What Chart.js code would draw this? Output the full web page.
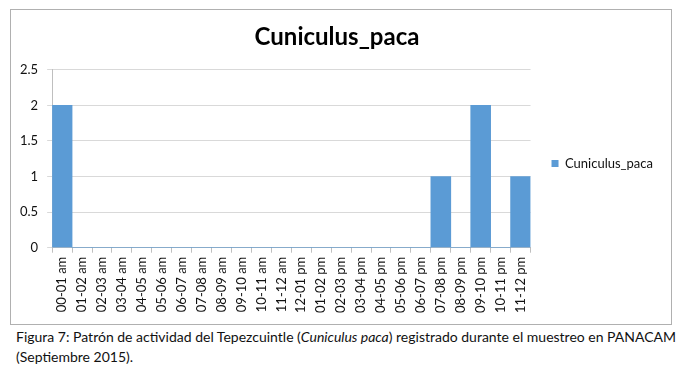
<!DOCTYPE html>
<html>
<head>
<meta charset="utf-8">
<script src="https://cdn.jsdelivr.net/npm/chart.js@4/dist/chart.umd.min.js"></script>
<style>
  body { margin: 0; background: #fff; width: 684px; height: 373px; position: relative; font-family: Lato, sans-serif; }
  #box { position: absolute; left: 10px; top: 9px; width: 660px; height: 314px; border: 1px solid #b0b0b0; }
  #caption { position: absolute; left: 16px; top: 327px; font-size: 14px; line-height: 20px; color: #111; white-space: nowrap; }
</style>
</head>
<body>
<div id="box"><canvas id="chart" width="660" height="314"></canvas></div>
<div id="caption">Figura 7: Patrón de actividad del Tepezcuintle (<i>Cuniculus paca</i>) registrado durante el muestreo en PANACAM<br>(Septiembre 2015).</div>
<script>
  // horas del día
  const horas = [
    '00-01 am', '01-02 am', '02-03 am', '03-04 am', '04-05 am', '05-06 am',
    '06-07 am', '07-08 am', '08-09 am', '09-10 am', '10-11 am', '11-12 am',
    '12-01 pm', '01-02 pm', '02-03 pm', '03-04 pm', '04-05 pm', '05-06 pm',
    '06-07 pm', '07-08 pm', '08-09 pm', '09-10 pm', '10-11 pm', '11-12 pm'
  ];
  const registros = [2, 0, 0, 0, 0, 0, 0, 0, 0, 0, 0, 0, 0, 0, 0, 0, 0, 0, 0, 1, 0, 2, 0, 1];
  const especie = 'Cuniculus_paca';

  const ctx = document.getElementById('chart').getContext('2d');
  new Chart(ctx, {
    type: 'bar',
    data: {
      labels: horas,
      datasets: [{
        label: especie,
        data: registros,
        backgroundColor: '#5b9bd5',
        barPercentage: 1,
        categoryPercentage: 1
      }]
    },
    options: {
      responsive: false,
      animation: false,
      layout: { padding: { left: 0, right: 8, top: 0, bottom: 7 } },
      plugins: {
        title: {
          display: true,
          text: especie,
          color: '#000',
          font: { family: 'Lato', size: 24, weight: 'bold' },
          padding: { top: 13, bottom: 18 }
        },
        legend: {
          display: true,
          position: 'right',
          labels: {
            boxWidth: 7,
            boxHeight: 7,
            padding: 21,
            color: '#111',
            font: { family: 'Lato', size: 13 }
          }
        },
        tooltip: { enabled: false }
      },
      scales: {
        y: {
          min: 0,
          max: 2.5,
          ticks: {
            stepSize: 0.5,
            padding: 9,
            color: '#111',
            font: { family: 'Lato', size: 13 },
            callback: function(value) {
              return String(value);
            }
          },
          grid: { color: '#d9d9d9', tickLength: 5 },
          border: { color: '#bfbfbf' }
        },
        x: {
          ticks: { minRotation: 90, maxRotation: 90, padding: 4, color: '#111', font: { family: 'Lato', size: 13 } },
          grid: { drawOnChartArea: false, tickLength: 5, color: '#bfbfbf' },
          border: { color: '#bfbfbf' }
        }
      }
    }
  });
</script>
</body>
</html>
